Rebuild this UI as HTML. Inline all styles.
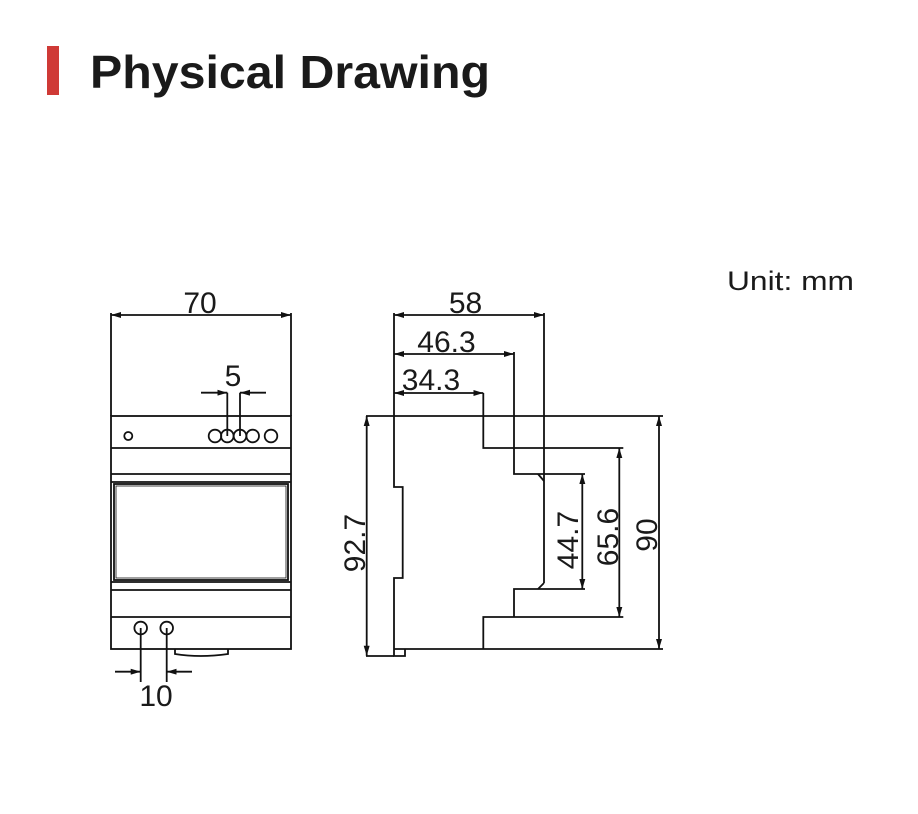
<!DOCTYPE html>
<html><head><meta charset="utf-8"><style>
html,body{margin:0;padding:0;background:#fff;}
svg{display:block;}
text{font-family:"Liberation Sans",sans-serif;fill:#1a1a1a;}
</style></head><body>
<svg width="918" height="814" viewBox="0 0 918 814" xmlns="http://www.w3.org/2000/svg">
<defs>
<marker id="a" viewBox="0 0 10 6" refX="10" refY="3" markerWidth="10" markerHeight="6" orient="auto-start-reverse" markerUnits="userSpaceOnUse"><path d="M0,0 L10,3 L0,6 z" fill="#111"/></marker>
</defs>
<rect x="47" y="46" width="12" height="49" fill="#cf3a36"/>
<text x="90" y="88" font-size="46" font-weight="bold" textLength="400" lengthAdjust="spacingAndGlyphs" style="fill:#1a1a1a">Physical Drawing</text>
<text x="727" y="290" font-size="27" textLength="127" lengthAdjust="spacingAndGlyphs">Unit: mm</text>

<g stroke="#111" stroke-width="1.8" fill="none">
<!-- front view -->
<rect x="111" y="416" width="180" height="233"/>
<line x1="111" y1="448" x2="291" y2="448"/>
<line x1="111" y1="474" x2="291" y2="474"/>
<line x1="111" y1="482" x2="291" y2="482"/>
<rect x="114" y="484" width="174" height="96"/>
<rect x="116" y="486" width="170" height="92" stroke-width="0.8"/>
<line x1="111" y1="582" x2="291" y2="582"/>
<line x1="111" y1="590" x2="291" y2="590"/>
<line x1="111" y1="617" x2="291" y2="617"/>
<path d="M175,649 L175,654 Q200,658 228,654 L228,649"/>
<circle cx="128.3" cy="436" r="4"/>
<circle cx="215" cy="436" r="6.3"/>
<circle cx="227.3" cy="436" r="6.3"/>
<circle cx="240" cy="436" r="6.3"/>
<circle cx="252.7" cy="436" r="6.3"/>
<circle cx="271" cy="436" r="6.3"/>
<circle cx="140.7" cy="628" r="6.3"/>
<circle cx="166.7" cy="628" r="6.3"/>
<!-- 70 dim -->
<line x1="111" y1="313" x2="111" y2="416"/>
<line x1="291" y1="313" x2="291" y2="416"/>
<line x1="111" y1="315" x2="291" y2="315" marker-start="url(#a)" marker-end="url(#a)"/>
<!-- 5 dim -->
<line x1="227.3" y1="392.7" x2="227.3" y2="436"/>
<line x1="240" y1="392.7" x2="240" y2="436"/>
<line x1="201" y1="392.7" x2="227.3" y2="392.7" marker-end="url(#a)"/>
<line x1="266" y1="392.7" x2="240" y2="392.7" marker-end="url(#a)"/>
<!-- 10 dim -->
<line x1="140.7" y1="628" x2="140.7" y2="682"/>
<line x1="166.7" y1="628" x2="166.7" y2="682"/>
<line x1="115" y1="671.7" x2="140.7" y2="671.7" marker-end="url(#a)"/>
<line x1="192" y1="671.7" x2="166.7" y2="671.7" marker-end="url(#a)"/>

<!-- side view -->
<path d="M394,313 L394,487 L402.7,487 L402.7,578 L394,578 L394,656 L405,656 L405,649"/>
<line x1="366" y1="416" x2="663" y2="416"/>
<line x1="394" y1="649" x2="663" y2="649"/>
<path d="M483.3,393 L483.3,448 L623.3,448"/>
<path d="M514,352 L514,474 L585,474"/>
<path d="M544,313 L544,481 L544,583"/>
<path d="M538,474 L544,481"/>
<path d="M538,589 L544,583"/>
<path d="M585,589 L514,589 L514,617"/>
<path d="M623.3,617 L483.3,617 L483.3,649"/>
<line x1="366" y1="656" x2="394" y2="656"/>
<!-- dims -->
<line x1="394" y1="315" x2="544" y2="315" marker-start="url(#a)" marker-end="url(#a)"/>
<line x1="394" y1="354" x2="514" y2="354" marker-start="url(#a)" marker-end="url(#a)"/>
<line x1="394" y1="393" x2="483.3" y2="393" marker-start="url(#a)" marker-end="url(#a)"/>
<line x1="366.7" y1="416" x2="366.7" y2="655.7" marker-start="url(#a)" marker-end="url(#a)"/>
<line x1="582.3" y1="474" x2="582.3" y2="589" marker-start="url(#a)" marker-end="url(#a)"/>
<line x1="619.3" y1="448" x2="619.3" y2="617" marker-start="url(#a)" marker-end="url(#a)"/>
<line x1="659" y1="416" x2="659" y2="649" marker-start="url(#a)" marker-end="url(#a)"/>
</g>

<g font-size="30">
<text x="200" y="313" text-anchor="middle">70</text>
<text x="233" y="386" text-anchor="middle">5</text>
<text x="156" y="706" text-anchor="middle">10</text>
<text x="465.5" y="313" text-anchor="middle">58</text>
<text x="446.5" y="352" text-anchor="middle">46.3</text>
<text x="431" y="390" text-anchor="middle">34.3</text>
<text transform="translate(365,543) rotate(-90)" text-anchor="middle">92.7</text>
<text transform="translate(578,540) rotate(-90)" text-anchor="middle">44.7</text>
<text transform="translate(618,537) rotate(-90)" text-anchor="middle">65.6</text>
<text transform="translate(657,535) rotate(-90)" text-anchor="middle">90</text>
</g>
</svg>
</body></html>
